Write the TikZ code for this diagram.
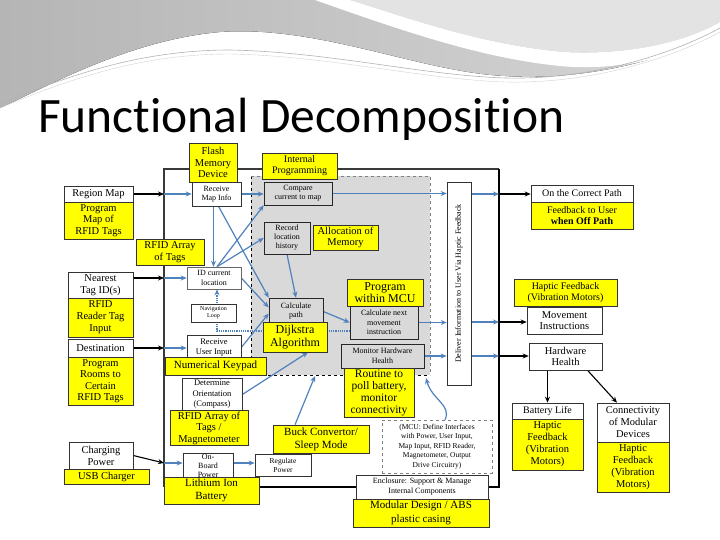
\documentclass[tikz,border=0pt]{standalone}
\usepackage{fontspec}
\setmainfont{Liberation Serif}
\newfontfamily\titlefont[Ligatures={NoCommon}]{Carlito}
\usetikzlibrary{arrows.meta,calc}
\pgfdeclarelayer{bglayer}
\pgfdeclarelayer{midlayer}
\pgfsetlayers{bglayer,midlayer,main}
\definecolor{ablue}{HTML}{4F81BD}
\definecolor{ygl}{HTML}{FFFF00}
\definecolor{gbox}{HTML}{D9D9D9}
\newcommand{\fsz}[2]{\fontsize{#1}{#2}\selectfont}
\begin{document}
\begin{tikzpicture}[x=1pt,y=-1pt,
  base/.style={draw=black!80, line width=0.6pt, align=center, inner sep=1pt, font=\fsz{10.5}{11.5}},
  wb/.style={base, fill=white},
  yb/.style={base, fill=ygl},
  gb/.style={base, fill=gbox, draw=black!85},
  sz/.style 2 args={minimum width=#1pt, minimum height=#2pt},
  bl/.style={draw=ablue, line width=1.2pt, -{Stealth[length=6pt,width=5pt]}},
  bk/.style={draw=black, line width=1.1pt, -{Stealth[length=6pt,width=5pt]}}]
\useasboundingbox (0,0) rectangle (720,540);
\begin{pgfonlayer}{bglayer}
  % top decoration
  \fill[left color=gray!58, right color=gray!32] (0,0) -- (720,0) -- (720,30)
    .. controls (650,70) and (560,80) .. (505,76)
    .. controls (420,72) and (320,25) .. (220,32)
    .. controls (130,40) and (50,85) .. (0,108) -- cycle;
  \fill[white] (315,0) .. controls (400,30) and (480,58) .. (560,66)
    .. controls (620,72) and (680,55) .. (720,35) -- (720,22)
    .. controls (680,45) and (620,55) .. (565,52)
    .. controls (480,45) and (400,15) .. (350,0) -- cycle;
  \fill[gray!22] (350,0) .. controls (400,15) and (480,45) .. (565,52)
    .. controls (620,55) and (680,45) .. (720,22) -- (720,0) -- cycle;
  \draw[gray!60, line width=0.6pt] (0,104) .. controls (80,70) and (150,50) .. (230,50)
    .. controls (330,52) and (420,75) .. (505,78) .. controls (600,80) and (680,50) .. (720,28);
  \draw[gray!35, line width=0.4pt] (0,108) .. controls (80,74) and (150,54) .. (230,54)
    .. controls (330,56) and (420,79) .. (505,82) .. controls (600,84) and (680,54) .. (720,32);
  % outer frame
  \draw[gray!45!black, line width=1.5pt] (164,487) -- (164,169) -- (499,169);
  \draw[black, line width=1.8pt] (499,169) -- (499,487) -- (164,487);
  % dashed MCU region
  \fill[gbox] (251,176) rectangle (430,375);
  \draw[dashed, black, line width=0.7pt] (251,176) -- (251,375) -- (430,375);
  \draw[dashed, gray, line width=0.7pt] (251,176) -- (430,176) -- (430,375);
\end{pgfonlayer}

\node[anchor=base west, font=\titlefont\fsz{49.5}{50}, inner sep=0pt] (title) at (38,133) {Functional Decomposition};

% left column
\node[wb, sz={69}{16}] (regionmap) at (98.5,194) {Region Map};
\node[yb, sz={69}{37}] (progmap) at (98.5,220.5) {Program\\Map of\\RFID Tags};
\node[yb, sz={68}{26}, font=\fsz{10.5}{12}] (rfidarr) at (170,252) {RFID Array\\of Tags};
\node[wb, sz={65}{26}, font=\fsz{10.5}{12}] (nearest) at (100.5,285) {Nearest\\Tag ID(s)};
\node[yb, sz={65}{39}, font=\fsz{10.5}{12}] (rfidreader) at (100.5,317.5) {RFID\\Reader Tag\\Input};
\node[wb, sz={65}{18}] (dest) at (100.5,348) {Destination};
\node[yb, sz={65}{48}] (progrooms) at (100.5,381) {Program\\Rooms to\\Certain\\RFID Tags};
\node[wb, sz={64}{27}, font=\fsz{10.5}{12}] (charging) at (101,455.5) {Charging\\Power};
\node[yb, sz={85}{15}] (usb) at (106.5,476.5) {USB Charger};

% inner left column
\node[wb, sz={49}{24}, font=\fsz{8}{9}] (recmap) at (216.5,194) {Receive\\Map Info};
\node[yb, sz={48}{39}] (flash) at (213,162.5) {Flash\\Memory\\Device};
\node[wb, sz={54}{22}, font=\fsz{8}{9.5}, draw=black!60] (idcur) at (214,278) {ID current\\location};
\node[wb, sz={45}{18}, font=\fsz{6}{7}] (navloop) at (213.5,313) {Navigation\\Loop};
\node[wb, sz={54}{25}, font=\fsz{8.5}{10}] (recuser) at (214,347.5) {Receive\\User Input};
\node[yb, sz={101}{18}, font=\fsz{11}{12}] (numkey) at (215.5,366) {Numerical Keypad};
\node[wb, sz={60}{33}, font=\fsz{8.5}{10.5}] (determine) at (212,394.5) {Determine\\Orientation\\(Compass)};
\node[yb, sz={78}{34}] (rfidmag) at (209,428) {RFID Array of\\Tags /\\Magnetometer};
\node[wb, sz={50}{25}, font=\fsz{8}{9}] (onboard) at (208,465.5) {On-\\Board\\Power};
\node[yb, sz={95}{27}, font=\fsz{11}{13}] (lithium) at (211.5,490.5) {Lithium Ion\\Battery};
\node[wb, sz={56}{22}, font=\fsz{7.5}{9}] (regulate) at (283,465) {Regulate\\Power};
\node[yb, sz={96}{28}, font=\fsz{11}{13}] (buck) at (321,439) {Buck Convertor/\\Sleep Mode};

% MCU region
\node[yb, sz={75}{26}, font=\fsz{10}{11}] (intprog) at (299.5,166) {Internal\\Programming};
\node[gb, sz={68}{23}, font=\fsz{8}{9}] (compare) at (298,193.5) {Compare\\current to map};
\node[gb, sz={46}{32}, font=\fsz{8}{9}] (record) at (287,238) {Record\\location\\history};
\node[yb, sz={65}{25}] (alloc) at (345.5,237.5) {Allocation of\\Memory};
\node[gb, sz={54}{27}, font=\fsz{8}{9}] (calcpath) at (296,311.5) {Calculate\\path};
\node[yb, sz={64}{30}, font=\fsz{12}{13}] (dijkstra) at (295,337) {Dijkstra\\Algorithm};
\node[yb, sz={76}{27}, font=\fsz{12}{12.5}] (progmcu) at (385,292.5) {Program\\within MCU};
\node[gb, sz={68}{33}, font=\fsz{8}{9.5}] (calcnext) at (384,322.5) {Calculate next\\movement\\instruction};
\node[gb, sz={83}{24}, font=\fsz{8}{9.5}] (monitor) at (382.5,356) {Monitor Hardware\\Health};
\node[yb, sz={70}{49}, font=\fsz{11.5}{12}] (routine) at (379,392.5) {Routine to\\poll battery,\\monitor\\connectivity};
\node[wb, sz={24}{203}] (deliver) at (459,283.5) {};
\node[rotate=90, font=\fsz{8}{9}, inner sep=0pt] (delivertxt) at (deliver.center) {Deliver Information to User Via Haptic Feedback};
\node[wb, sz={110}{53}, draw=gray, dashed, font=\fsz{7.5}{9.5}] (mcu) at (437,446.5) {(MCU: Define Interfaces\\with Power, User Input,\\Map Input, RFID Reader,\\Magnetometer, Output\\Drive Circuitry)};
\node[wb, sz={132}{24}, font=\fsz{8}{10}] (enclosure) at (422,487) {Enclosure: Support \& Manage\\Internal Components};
\node[yb, sz={136}{28}, font=\fsz{11}{13.5}] (modular) at (421,513) {Modular Design / ABS\\plastic casing};

% right column
\node[wb, sz={102}{17}, font=\fsz{10}{11}] (correct) at (582,193.5) {On the Correct Path};
\node[yb, sz={102}{27}, font=\fsz{10}{11.5}] (feedback) at (582,215.5) {Feedback to User\\\textbf{when Off Path}};
\node[yb, sz={103}{27}, font=\fsz{10}{11.5}] (haptic1) at (565.5,292.5) {Haptic Feedback\\(Vibration Motors)};
\node[wb, sz={75}{27}] (movement) at (564.5,320.5) {Movement\\Instructions};
\node[wb, sz={73}{27}] (hwhealth) at (565.5,356.5) {Hardware\\Health};
\node[wb, sz={71}{16}, font=\fsz{10}{11}] (battery) at (547.5,411) {Battery Life};
\node[yb, sz={71}{51}, font=\fsz{10.5}{12}] (haptic2) at (547.5,444.5) {Haptic\\Feedback\\(Vibration\\Motors)};
\node[wb, sz={72}{39}, font=\fsz{10.5}{12}] (connect) at (633,422.5) {Connectivity\\of Modular\\Devices};
\node[yb, sz={72}{50}, font=\fsz{10.5}{12}] (haptic3) at (633,467) {Haptic\\Feedback\\(Vibration\\Motors)};

\begin{pgfonlayer}{midlayer}
  \coordinate (f1) at (164,194);
  \coordinate (f2) at (164,278);
  \coordinate (f3) at (164,348);
  \coordinate (f4) at (164,463);
  \coordinate (g1) at (499,194);
  \coordinate (g2) at (499,322);
  \coordinate (g3) at (499,356);
  \coordinate (r1) at (315,376);
  \coordinate (r2) at (426,378);
  % black inputs
  \draw[bk] (regionmap.east) -- (f1);
  \draw[bk] (nearest.east |- f2) -- (f2);
  \draw[bk] (dest.east) -- (f3);
  \draw[bk] (charging.east) -- (f4);
  % blue inside
  \draw[bl] (f1) -- (recmap.west);
  \draw[bl] (f2) -- (idcur.west |- f2);
  \draw[bl] (f3) -- (recuser.west |- f3);
  \draw[bl] (f4) -- (onboard.west |- f4);
  \draw[bl] (onboard.east |- f4) -- (regulate.west |- f4);
  \draw[bl] (recmap.east) -- (compare.west |- recmap.east);
  \draw[bl] ([xshift=-3pt]recmap.south) -- ([xshift=-3pt]recmap.south |- idcur.north);
  \draw[bl] ([xshift=2pt]recmap.south) -- (calcpath.north west);
  \draw[bl] ([xshift=3pt]idcur.north) -- (compare.south west);
  \draw[bl] ([xshift=3pt]idcur.north) -- (record.west);
  \draw[bl] (idcur.east) -- ([yshift=4pt]calcpath.west);
  \draw[bl] (recuser.east) -- ([yshift=-2pt]calcpath.west);
  \draw[bl] (record.south) -- (calcpath.north);
  \draw[bl] (calcpath.east) -- (calcnext.west);
  \draw[bl] (compare.east) -- (deliver.west |- compare.east);
  \draw[bl] (calcnext.east) -- (deliver.west |- calcnext.east);
  \draw[bl] (monitor.east) -- (deliver.west |- monitor.east);
  \draw[bl] (deliver.east |- g1) -- (g1);
  \draw[bl] (deliver.east |- g2) -- (g2);
  \draw[bl] (deliver.east |- g3) -- (g3);
  \draw[bl] (determine.east) -- ([xshift=13pt]dijkstra.south);
  \draw[bl] ([xshift=-26pt]buck.north) -- (r1);
  \draw[bl] ([xshift=8pt]mcu.north) .. controls (452,405) and (432,400) .. (r2);
  \draw[ablue, line width=1.2pt, densely dotted, -{Stealth[length=6pt,width=5pt]}]
    ([yshift=-8.5pt]calcnext.west) -| ([xshift=3pt]idcur.south);
  % black outputs
  \draw[bk] (g1) -- (correct.west |- g1);
  \draw[bk] (g2) -- (movement.west |- g2);
  \draw[bk] (g3) -- (hwhealth.west |- g3);
  \draw[bk] (battery.north |- hwhealth.south) -- (battery.north);
  \draw[bk] ([xshift=22pt]hwhealth.south) -- ([xshift=-16pt]connect.north);
\end{pgfonlayer}
\end{tikzpicture}
\end{document}
